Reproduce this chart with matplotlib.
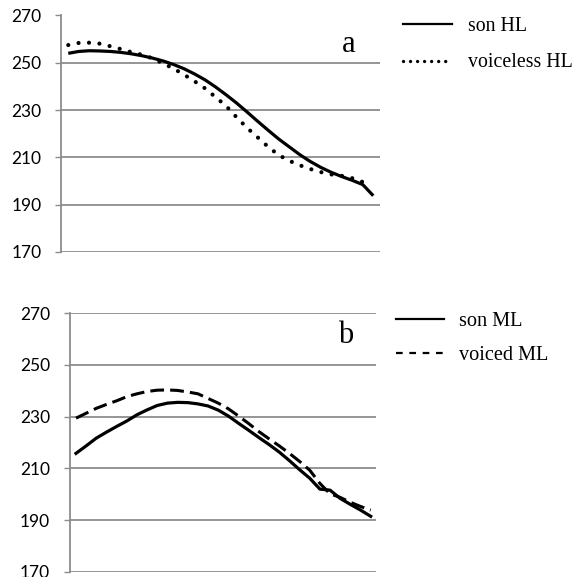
import numpy as np
import matplotlib
matplotlib.use('Agg')
import matplotlib.pyplot as plt
from matplotlib.lines import Line2D

# valores (30 pontos por curva)
son_hl = [254.0, 254.8, 255.1, 255.0, 254.8, 254.4, 253.8, 253.0, 252.0, 250.8,
          249.3, 247.5, 245.3, 242.8, 239.8, 236.5, 233.0, 229.2, 225.3, 221.5,
          217.8, 214.5, 211.2, 208.3, 205.8, 203.7, 201.9, 200.3, 198.5, 193.8]
voiceless_hl = [257.5, 258.4, 258.5, 258.1, 257.0, 255.8, 254.5, 253.4, 251.9, 249.8,
                247.6, 245.0, 242.2, 239.2, 235.5, 231.8, 227.0, 222.5, 218.5, 214.5,
                211.0, 208.6, 206.7, 205.1, 203.8, 202.8, 202.2, 201.2, 199.6, np.nan]
son_ml = [215.8, 218.7, 221.7, 224.0, 226.2, 228.3, 230.7, 232.6, 234.3, 235.2,
          235.5, 235.4, 234.9, 234.1, 232.5, 230.2, 227.4, 224.7, 221.9, 219.2,
          216.3, 213.0, 209.5, 206.2, 202.0, 201.6, 198.4, 196.1, 193.9, 191.5]
voiced_ml = [229.4, 231.3, 233.2, 234.7, 236.1, 237.7, 238.8, 239.7, 240.2, 240.3,
             240.1, 239.5, 238.8, 237.0, 235.2, 233.0, 230.2, 227.3, 224.2, 221.4,
             218.7, 215.8, 212.7, 209.3, 204.2, 200.2, 198.8, 196.9, 195.3, 193.9]
yticks = [170, 190, 210, 230, 250, 270]

x = np.arange(len(son_hl))
W, H = 579, 577
cinza = '#8c8c8c'
serif = 'Liberation Serif'

fig = plt.figure(figsize=(W / 100, H / 100), dpi=100)

def eixo(rect, xlim, tsize, pad):
    ax = fig.add_axes(rect)
    ax.set_xlim(*xlim)
    ax.set_ylim(170, 270)
    ax.set_yticks(yticks)
    ax.set_xticks([])
    ax.grid(axis='y', color=cinza, linewidth=1.3)
    ax.set_axisbelow(True)
    for s in ['top', 'right', 'bottom']:
        ax.spines[s].set_visible(False)
    ax.spines['left'].set_color(cinza)
    ax.spines['left'].set_linewidth(1.3)
    ax.tick_params(axis='y', color=cinza, width=1.0, length=4.5, pad=pad,
                   labelsize=tsize)
    for t in ax.get_yticklabels():
        t.set_fontfamily('Lato')
    return ax

# painel a
ax1 = eixo([61 / W, 1 - 252 / H, 319 / W, 236.5 / H], (-0.69, 29.64), 12.5, 9.4)
ax1.plot(x, son_hl, color='black', linewidth=2.3, solid_capstyle='butt')
ax1.plot(x, voiceless_hl, color='black', linewidth=3.0,
         linestyle=(0, (0.01, 2.5)), dash_capstyle='round')
ax1.text(0.901, 0.846, 'a', transform=ax1.transAxes, ha='center', va='baseline',
         fontsize=22, family=serif)
h1 = [Line2D([], [], color='black', linewidth=1.6),
      Line2D([], [], color='black', linewidth=2.4, linestyle=(0, (0.01, 2.1)),
             dash_capstyle='round')]
fig.legend(h1, ['son HL', 'voiceless HL'], loc='upper left',
           bbox_to_anchor=(403 / W, 1 - 17 / H), frameon=False,
           prop={'family': serif, 'size': 14.3}, handlelength=2.45,
           handletextpad=0.8, labelspacing=0.88, borderpad=0, borderaxespad=0)

# painel b
ax2 = eixo([70 / W, 1 - 572 / H, 306 / W, 259 / H], (-0.59, 29.52), 12.5, 10)
ax2.plot(x, son_ml, color='black', linewidth=2.3)
ax2.plot(x, voiced_ml, color='black', linewidth=2.2, linestyle=(0, (4.5, 2.0)))
ax2.text(0.900, 0.884, 'b', transform=ax2.transAxes, ha='center', va='baseline',
         fontsize=22, family=serif)
h2 = [Line2D([], [], color='black', linewidth=1.6),
      Line2D([], [], color='black', linewidth=1.6, linestyle=(0, (3.0, 3.0)))]
fig.legend(h2, ['son ML', 'voiced ML'], loc='upper left',
           bbox_to_anchor=(396 / W, 1 - 312 / H), frameon=False,
           prop={'family': serif, 'size': 14.6}, handlelength=2.35,
           handletextpad=0.75, labelspacing=0.72, borderpad=0, borderaxespad=0)

plt.savefig('out.png', dpi=100)
plt.close()
